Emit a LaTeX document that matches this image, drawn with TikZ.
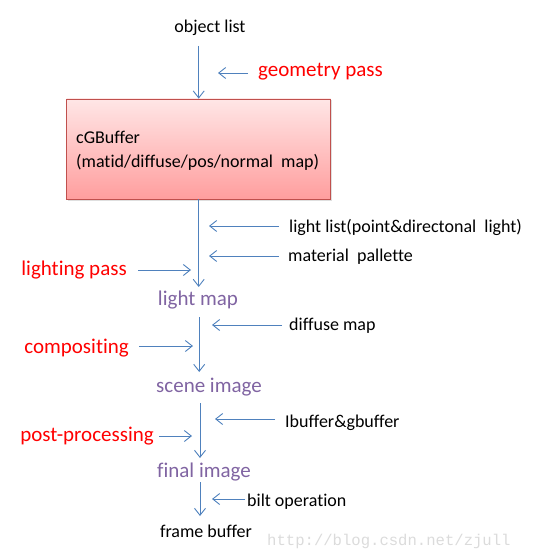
\documentclass[tikz,border=0pt]{standalone}
\usepackage{fontspec}
\setmainfont{Carlito}[Ligatures=NoCommon]
\newfontfamily\markfont{Liberation Mono}
\usetikzlibrary{arrows.meta, positioning, calc, shadows}
\usepackage{xcolor}

\definecolor{flowblue}{RGB}{79,129,189}
\definecolor{stagepurple}{RGB}{128,100,162}
\definecolor{boxtop}{RGB}{255,230,230}
\definecolor{boxbottom}{RGB}{255,158,158}
\definecolor{boxedge}{RGB}{192,80,77}

\tikzset{
  flow/.style={draw=flowblue, line width=0.9pt, -{Straight Barb[length=7pt, width=11pt]}},
  side/.style={flow, shorten <=10pt},
  stage/.style={text=stagepurple, font=\fontsize{21}{24}\selectfont, inner sep=0pt},
  item/.style={font=\fontsize{18}{21}\selectfont, inner sep=0pt},
  pass/.style={text=red, font=\fontsize{21}{24}\selectfont, inner sep=0pt},
}

\begin{document}
\begin{tikzpicture}[x=1pt, y=-1pt]
      \useasboundingbox (0, 0) rectangle (554, 559);

      % chain of buffers
      \node[item, anchor=base] (objlist) at (210, 33) {object list};
      \node[draw=boxedge, line width=0.8pt, top color=boxtop, bottom color=boxbottom,
            drop shadow={shadow xshift=1.5pt, shadow yshift=-1.5pt, opacity=0.25},
            minimum width=264pt, minimum height=100pt, inner sep=0pt] (gbuf) at (198.7, 149) {};
      \node[item, anchor=base west] (gbufname) at (76, 143) {cGBuffer};
      \node[item, anchor=base west] (gbufmaps) at (76, 167) {(matid/diffuse/pos/normal~ map)};
      \node[stage, anchor=base] (lmap) at (198, 305) {light map};
      \node[stage, anchor=base] (scene) at (209, 392) {scene image};
      \node[stage, anchor=base] (final) at (204, 477) {final image};
      \node[item, anchor=base] (fbuf) at (206, 537) {frame buffer};

      \draw[flow] ($(objlist.base -| gbuf.north)+(0, 13)$) -- (gbuf.north);
      \draw[flow] (gbuf.south) -- ($(lmap.base -| gbuf.south)+(0, -18)$);
      \draw[flow] ($(lmap.base -| gbuf.south)+(0.5, 12)$) -- ($(scene.base -| gbuf.south)+(0.5, -20)$);
      \draw[flow] ($(scene.base -| gbuf.south)+(1.3, 11)$) -- ($(final.base -| gbuf.south)+(1.3, -19)$);
      \draw[flow] ($(final.base -| gbuf.south)+(1.3, 5)$) -- ($(fbuf.base -| gbuf.south)+(1.3, -21)$);

      % inputs on the right
      \node[pass, anchor=base west] (geopass) at (258, 77) {geometry pass};
      \node[item, anchor=base west] (lights) at (289, 232) {light list(point\&directonal~ light)};
      \node[item, anchor=base west] (palette) at (288, 261) {material~ pallette};
      \node[item, anchor=base west] (diffuse) at (289, 330) {diffuse map};
      \node[item, anchor=base west] (lgbuf) at (285, 427) {Ibuffer\&gbuffer};
      \node[item, anchor=base west] (bilt) at (247, 506) {bilt operation};

      \coordinate (geotip) at (218, 73);
      \coordinate (lighttip) at (209, 226);
      \coordinate (palettetip) at (209, 256);
      \coordinate (diffusetip) at (212, 325);
      \coordinate (lgbuftip) at (215, 419);
      \coordinate (bilttip) at (212, 499);

      \draw[side] (geopass.west |- geotip) -- (geotip);
      \draw[side] (lights.west |- lighttip) -- (lighttip);
      \draw[side, shorten <=9pt] (palette.west |- palettetip) -- (palettetip);
      \draw[side, shorten <=7pt] (diffuse.west |- diffusetip) -- (diffusetip);
      \draw[side] (lgbuf.west |- lgbuftip) -- (lgbuftip);
      \draw[side, shorten <=2pt] (bilt.west |- bilttip) -- (bilttip);

      % passes on the left
      \node[pass, anchor=base east] (lightpass) at (127, 275) {lighting pass};
      \node[pass, anchor=base east] (comppass) at (129, 353) {compositing};
      \node[pass, anchor=base east] (postpass) at (154, 441) {post-processing};

      \coordinate (lighttip2) at (191, 270);
      \coordinate (comptip) at (193, 346);
      \coordinate (posttip) at (192, 436);

      \draw[side, shorten <=11pt] (lightpass.east |- lighttip2) -- (lighttip2);
      \draw[side] (comppass.east |- comptip) -- (comptip);
      \draw[side, shorten <=5pt] (postpass.east |- posttip) -- (posttip);

      \node[anchor=base west, inner sep=0pt, text=black!14, font=\markfont\fontsize{15.6}{18}\selectfont] (mark) at (267, 545) {http://blog.csdn.net/zjull};

    \end{tikzpicture}
\end{document}
